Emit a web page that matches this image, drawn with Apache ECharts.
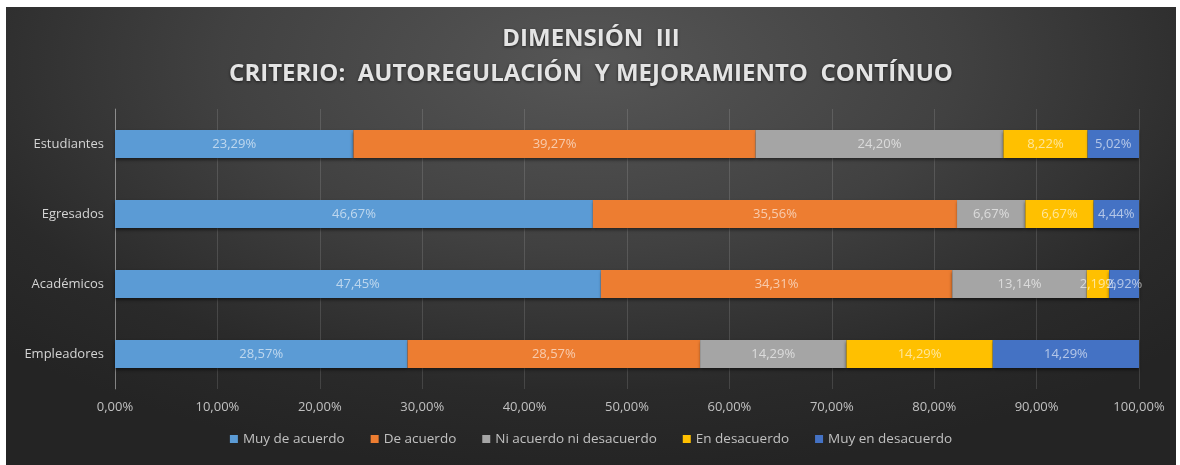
<!DOCTYPE html>
<html>
<head>
<meta charset="utf-8">
<script src="https://cdn.jsdelivr.net/npm/echarts@6/dist/echarts.min.js"></script>
<style>
  html, body { margin: 0; padding: 0; background: #fff; }
  #chart {
    position: absolute; left: 6px; top: 7px; width: 1170px; height: 458px;
    background: radial-gradient(ellipse 70% 90% at 50% 12%, #565656 0%, #414141 45%, #2a2a2a 80%, #242424 100%);
  }
</style>
</head>
<body>
<div id="chart"></div>
<script>
// categorías (de abajo hacia arriba, como las dibuja el eje)
const categories = ['Empleadores', 'Académicos', 'Egresados', 'Estudiantes'];
const seriesNames = ['Muy de acuerdo', 'De acuerdo', 'Ni acuerdo ni desacuerdo', 'En desacuerdo', 'Muy en desacuerdo'];
const muyDeAcuerdo = [28.57, 47.45, 46.67, 23.29];
const deAcuerdo = [28.57, 34.31, 35.56, 39.27];
const niAcuerdo = [14.29, 13.14, 6.67, 24.20];
const enDesacuerdo = [14.29, 2.19, 6.67, 8.22];
const muyEnDesacuerdo = [14.29, 2.92, 4.44, 5.02];
const colors = ['#5B9BD5', '#ED7D31', '#A5A5A5', '#FFC000', '#4472C4'];

const fontFam = '"Open Sans", sans-serif';
const pct = v => v.toFixed(2).replace('.', ',') + '%';

const chart = echarts.init(document.getElementById('chart'));
const allData = [muyDeAcuerdo, deAcuerdo, niAcuerdo, enDesacuerdo, muyEnDesacuerdo];

chart.setOption({
    backgroundColor: 'transparent',
    title: {
        text: 'DIMENSIÓN  III\nCRITERIO:  AUTOREGULACIÓN  Y MEJORAMIENTO  CONTÍNUO',
        left: 'center',
        top: 10,
        textStyle: {
            color: '#e4e4e4', fontSize: 24, fontWeight: 'bold', fontFamily: fontFam,
            lineHeight: 35,
            textShadowColor: 'rgba(0,0,0,0.6)', textShadowBlur: 3, textShadowOffsetY: 1
        }
    },
    legend: {
        bottom: 14,
        left: 'center',
        itemWidth: 8,
        itemHeight: 8,
        itemGap: 26,
        icon: 'rect',
        textStyle: { color: '#c0c0c0', fontSize: 13.5, fontFamily: fontFam },
        data: seriesNames
    },
    grid: { left: 109, right: 37, top: 102, bottom: 76 },
    xAxis: {
        type: 'value',
        min: 0,
        max: 100,
        interval: 10,
        axisLabel: {
            color: '#c0c0c0', fontSize: 13, fontFamily: fontFam, margin: 12,
            formatter: v => pct(v)
        },
        axisLine: { show: false },
        axisTick: { show: false },
        splitLine: { lineStyle: { color: 'rgba(255,255,255,0.13)', width: 1 } }
    },
    yAxis: {
        type: 'category',
        data: categories,
        axisLabel: { color: '#d4d4d4', fontSize: 13, fontFamily: fontFam, margin: 11 },
        axisLine: { lineStyle: { color: 'rgba(255,255,255,0.35)' } },
        axisTick: { show: false }
    },
    series: seriesNames.map((name, i) => ({
        name: name,
        type: 'bar',
        stack: 'total',
        barWidth: 28,
        data: allData[i],
        itemStyle: {
            color: colors[i],
            shadowColor: 'rgba(0,0,0,0.5)',
            shadowBlur: 3,
            shadowOffsetY: 2
        },
        label: {
            show: true,
            position: 'inside',
            color: 'rgba(255,255,255,0.6)',
            fontSize: 13,
            fontFamily: fontFam,
            formatter: p => pct(p.value)
        }
    }))
});
</script>
</body>
</html>
